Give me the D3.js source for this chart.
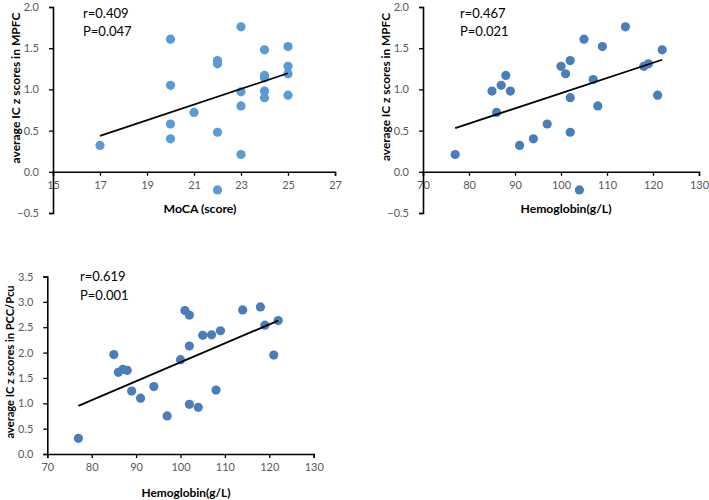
<!DOCTYPE html>
<html><head><meta charset="utf-8">
<script src="https://cdn.jsdelivr.net/npm/d3@7"></script>
<style>body{margin:0;background:#fff}svg{display:block}</style>
</head><body>
<svg id="c" width="709" height="500"></svg>
<script>
// Panel A: MoCA vs MPFC
const mocaScores = [17,20,20,20,20,21,22,22,22,22,23,23,23,23,24,24,24,24,24,25,25,25,25];
const mpfcA      = [0.32,1.61,1.05,0.58,0.40,0.72,1.35,1.31,0.48,-0.22,1.76,0.97,0.80,0.21,1.48,1.17,1.14,0.98,0.90,1.52,1.28,1.19,0.93];
const fitA = [[17,0.436],[25,1.196]];
const statsA = ["r=0.409","P=0.047"];
// Panel B: Hemoglobin vs MPFC
const hgbB  = [77,85,86,87,88,89,91,94,97,100,101,102,102,102,104,105,107,108,109,114,118,119,121,122];
const mpfcB = [0.21,0.98,0.72,1.05,1.17,0.98,0.32,0.40,0.58,1.28,1.19,1.35,0.90,0.48,-0.22,1.61,1.12,0.80,1.52,1.76,1.28,1.31,0.93,1.48];
const fitB = [[77,0.53],[122,1.36]];
const statsB = ["r=0.467","P=0.021"];
// Panel C: Hemoglobin vs PCC/Pcu
const hgbC = [77,85,86,87,88,89,91,94,97,100,101,102,102,102,104,105,107,108,109,114,118,119,121,122];
const pccC = [0.31,1.96,1.61,1.67,1.65,1.24,1.10,1.33,0.75,1.86,2.83,2.74,2.13,0.98,0.92,2.34,2.35,1.26,2.43,2.84,2.90,2.54,1.95,2.63];
const fitC = [[77,0.95],[122,2.63]];
const statsC = ["r=0.619","P=0.001"];

const xTicksMoca = [15,17,19,21,23,25,27];
const xTicksHgb = [70,80,90,100,110,120,130];
const yTicksMpfc = [-0.5,0,0.5,1.0,1.5,2.0];
const yTicksPcc = [0,0.5,1.0,1.5,2.0,2.5,3.0,3.5];

const svg = d3.select("#c");
const FONT = "Lato, 'Open Sans', sans-serif";

const panels = [
  {xs:mocaScores, ys:mpfcA, fit:fitA, stats:statsA, xd:[15,27], yd:[-0.5,2.0], xr:[53,335], yr:[213,7],
   xt:xTicksMoca, yt:yTicksMpfc, xlab:"MoCA (score)", ylab:"average IC z scores in MPFC",
   color:"#5B9BD5", statX:83, statY:[18,36], xlabPos:[200,213], ylabPos:[16,88], xlabLen:73, ylabLen:151},
  {xs:hgbB, ys:mpfcB, fit:fitB, stats:statsB, xd:[70,130], yd:[-0.5,2.0], xr:[423,699], yr:[213,7],
   xt:xTicksHgb, yt:yTicksMpfc, xlab:"Hemoglobin(g/L)", ylab:"average IC z scores in MPFC",
   color:"#4A7EBB", statX:460, statY:[18,36], xlabPos:[566,213], ylabPos:[386,87], xlabLen:91, ylabLen:148},
  {xs:hgbC, ys:pccC, fit:fitC, stats:statsC, xd:[70,130], yd:[0,3.5], xr:[47.3,313.7], yr:[454,276.5],
   xt:xTicksHgb, yt:yTicksPcc, xlab:"Hemoglobin(g/L)", ylab:"average IC z scores in PCC/Pcu",
   color:"#4A7EBB", statX:80, statY:[281,300], xlabPos:[186,497], ylabPos:[10,362], xlabLen:89, ylabLen:153}
];

panels.forEach(p => {
  const x = d3.scaleLinear().domain(p.xd).range(p.xr);
  const y = d3.scaleLinear().domain(p.yd).range(p.yr);
  const g = svg.append("g");
  const xa = g.append("g").attr("transform", `translate(0,${y(0)})`)
    .call(d3.axisBottom(x).tickValues(p.xt).tickFormat(d3.format("d")).tickSizeOuter(0).tickSize(4).tickPadding(5));
  const ya = g.append("g").attr("transform", `translate(${x(p.xd[0])},0)`)
    .call(d3.axisLeft(y).tickValues(p.yt).tickFormat(d3.format(".1f")).tickSizeOuter(0).tickSize(4).tickPadding(10));
  [xa, ya].forEach(a => {
    a.select(".domain").attr("stroke", "#000").attr("stroke-width", 1.6);
    a.selectAll(".tick line").attr("stroke", "#000").attr("stroke-width", 1.3);
    a.selectAll(".tick text").attr("fill", "#595959").style("font-family", FONT).style("font-size", "11px");
  });
  g.selectAll("circle").data(p.xs.map((v,i)=>[v,p.ys[i]])).join("circle")
    .attr("cx", d=>x(d[0])).attr("cy", d=>y(d[1])).attr("r", 4.6).attr("fill", p.color);
  g.append("line").attr("x1", x(p.fit[0][0])).attr("y1", y(p.fit[0][1]))
    .attr("x2", x(p.fit[1][0])).attr("y2", y(p.fit[1][1]))
    .attr("stroke", "#000").attr("stroke-width", 1.8);
  p.stats.forEach((s,i) => g.append("text").attr("x", p.statX).attr("y", p.statY[i])
    .style("font-family", FONT).style("font-size", "13px").attr("fill", "#000").text(s));
  g.append("text").attr("x", p.xlabPos[0]).attr("y", p.xlabPos[1]).attr("text-anchor", "middle")
    .attr("textLength", p.xlabLen).attr("lengthAdjust", "spacingAndGlyphs")
    .style("font-family", FONT).style("font-size", "12px").style("font-weight", "bold").text(p.xlab);
  g.append("text").attr("transform", `translate(${p.ylabPos[0]},${p.ylabPos[1]}) rotate(-90)`)
    .attr("text-anchor", "middle").attr("dy", "0.35em")
    .attr("textLength", p.ylabLen).attr("lengthAdjust", "spacingAndGlyphs")
    .style("font-family", FONT).style("font-size", "12px").style("font-weight", "bold").text(p.ylab);
});
</script>
</body></html>
